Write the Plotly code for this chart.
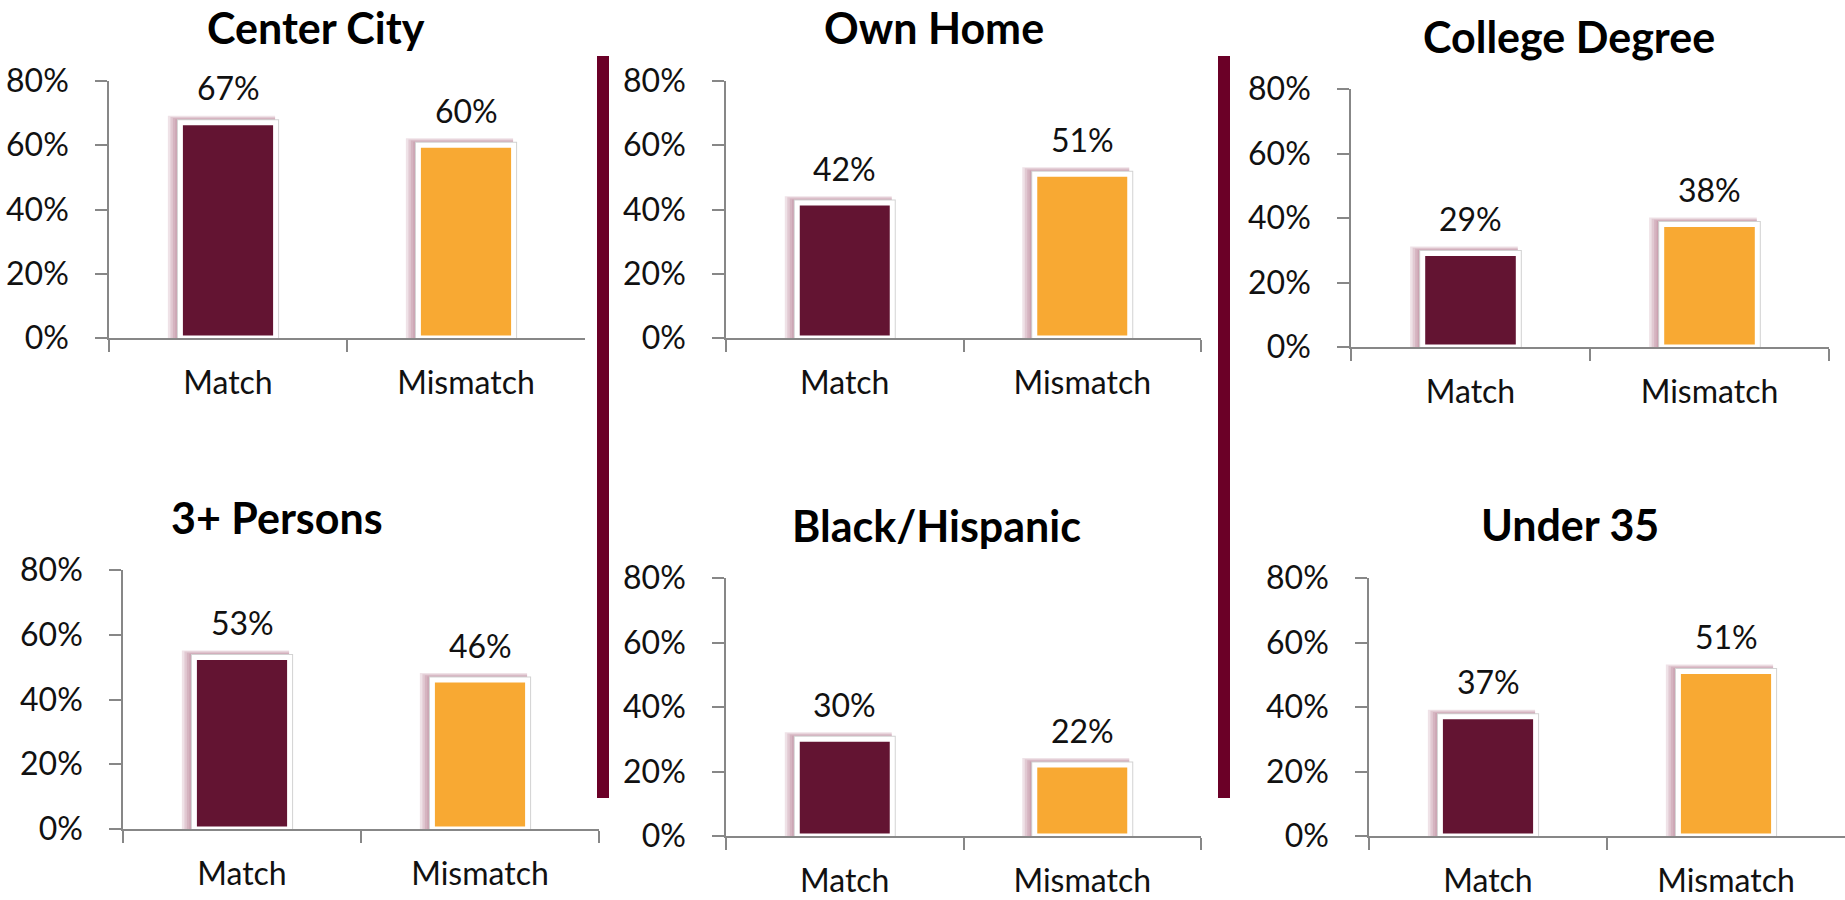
import plotly.graph_objects as go

# ---- data -------------------------------------------------------------
panel_titles = ["Center City", "Own Home", "College Degree",
                "3+ Persons", "Black/Hispanic", "Under 35"]
groups = ["Match", "Mismatch"]
match_pct = [67, 42, 29, 53, 30, 37]
mismatch_pct = [60, 51, 38, 46, 22, 51]
y_tick_values = [0, 20, 40, 60, 80]
y_tick_labels = ["0%", "20%", "40%", "60%", "80%"]

# ---- styling ----------------------------------------------------------
W, H = 1845, 900
MAROON = "#631432"
ORANGE = "#F8A933"
DIVIDER = "#6B0027"
AXIS_GREY = "#878787"
TEXT = "#111111"
FONT = "Lato"
LABEL_SIZE = 32
TITLE_SIZE = 43
bar_colors = [MAROON, ORANGE]

# plot frames in pixels: left, right, top (80%), bottom (0%), title centre x, y
frames = [
    (109, 585, 81, 338, 316, 27),
    (726, 1201, 81, 338, 934, 27),
    (1351, 1829, 89, 347, 1569, 37),
    (123, 599, 570, 829, 277, 517),
    (726, 1201, 578, 836, 936, 525),
    (1369, 1845, 578, 836, 1570, 524),
]

BAR_W = 0.40          # bar width in category units
LINE_W = 5            # white rim around bars
CAT_PX = 238.0        # approx pixel width of one category
PX_PER_PCT = 257.0 / 80.0


def px_to_cat(p):
    return p / CAT_PX


def px_to_pct(p):
    return p / PX_PER_PCT


fig = go.Figure()
layout = dict(
    template="none",
    width=W, height=H, autosize=False,
    margin=dict(l=0, r=0, t=0, b=0, pad=0, autoexpand=False),
    paper_bgcolor="white", plot_bgcolor="rgba(0,0,0,0)",
    barmode="overlay", showlegend=False,
    font=dict(family=FONT, color=TEXT, size=LABEL_SIZE),
    annotations=[], shapes=[],
)

for i, (title, frame) in enumerate(zip(panel_titles, frames)):
    left, right, top, bottom, tx, ty = frame
    n = "" if i == 0 else str(i + 1)
    xa, ya = "x" + n, "y" + n
    vals = [match_pct[i], mismatch_pct[i]]

    # soft glow to the upper-left of each bar
    for k in range(4, 0, -1):
        ext_l = 2.5 * k
        ext_t = 1.1 * k
        fig.add_trace(go.Bar(
            x=groups, y=[v + px_to_pct(LINE_W / 2 + ext_t) for v in vals],
            offset=-BAR_W / 2 - px_to_cat(LINE_W / 2 + ext_l),
            width=BAR_W + px_to_cat(LINE_W + ext_l - 3),
            marker=dict(color="rgba(150,60,95,0.15)", line=dict(width=0)),
            xaxis=xa, yaxis=ya, hoverinfo="skip",
        ))

    # thin grey edge around the white rim
    fig.add_trace(go.Bar(
        x=groups, y=[v + px_to_pct(LINE_W / 2 + 1) for v in vals],
        offset=-BAR_W / 2 - px_to_cat(LINE_W / 2 + 1),
        width=BAR_W + px_to_cat(LINE_W + 2),
        marker=dict(color="#D2D2D2", line=dict(width=0)),
        xaxis=xa, yaxis=ya, hoverinfo="skip",
    ))

    # main bars
    fig.add_trace(go.Bar(
        x=groups, y=vals, offset=-BAR_W / 2, width=BAR_W,
        marker=dict(color=bar_colors, line=dict(color="white", width=LINE_W)),
        xaxis=xa, yaxis=ya,
        hovertemplate="%{x}: %{y}%<extra></extra>",
    ))

    layout["xaxis" + n] = dict(
        domain=[left / W, right / W], anchor=ya, automargin=False,
        type="category", categoryorder="array", categoryarray=groups,
        range=[-0.5, 1.5], tickson="boundaries",
        ticks="outside", ticklen=12, tickwidth=1.5, tickcolor=AXIS_GREY,
        showline=True, linecolor=AXIS_GREY, linewidth=1.5,
        showgrid=False, zeroline=False, ticklabelstandoff=16,
        tickfont=dict(family=FONT, size=LABEL_SIZE, color=TEXT),
        fixedrange=True,
    )
    layout["yaxis" + n] = dict(
        domain=[1 - bottom / H, 1 - top / H], anchor=xa, automargin=False,
        range=[0, 80], tickmode="array",
        tickvals=y_tick_values, ticktext=y_tick_labels,
        ticks="outside", ticklen=12, tickwidth=1.5, tickcolor=AXIS_GREY,
        showline=True, linecolor=AXIS_GREY, linewidth=1.5,
        showgrid=False, zeroline=False, ticklabelstandoff=20,
        tickfont=dict(family=FONT, size=LABEL_SIZE, color=TEXT),
        fixedrange=True,
    )

    # value labels above bars
    for g, v in zip(groups, vals):
        layout["annotations"].append(dict(
            x=g, y=v, xref=xa, yref=ya, text=f"{v}%", showarrow=False,
            yanchor="middle", yshift=35,
            font=dict(family=FONT, size=LABEL_SIZE, color=TEXT),
        ))

    # panel title
    layout["annotations"].append(dict(
        x=tx / W, y=1 - ty / H, xref="paper", yref="paper",
        text=title, showarrow=False, xanchor="center", yanchor="middle",
        font=dict(family=FONT, size=TITLE_SIZE, color="#000000", weight="bold"),
    ))

# vertical dividers between the columns
for x0, x1 in [(597, 609), (1218, 1230)]:
    layout["shapes"].append(dict(
        type="rect", xref="paper", yref="paper",
        x0=x0 / W, x1=x1 / W, y0=1 - 798 / H, y1=1 - 56 / H,
        fillcolor=DIVIDER, line=dict(width=0), layer="above",
    ))

fig.update_layout(**layout)
fig.write_html("out.html", config={"displayModeBar": False})
